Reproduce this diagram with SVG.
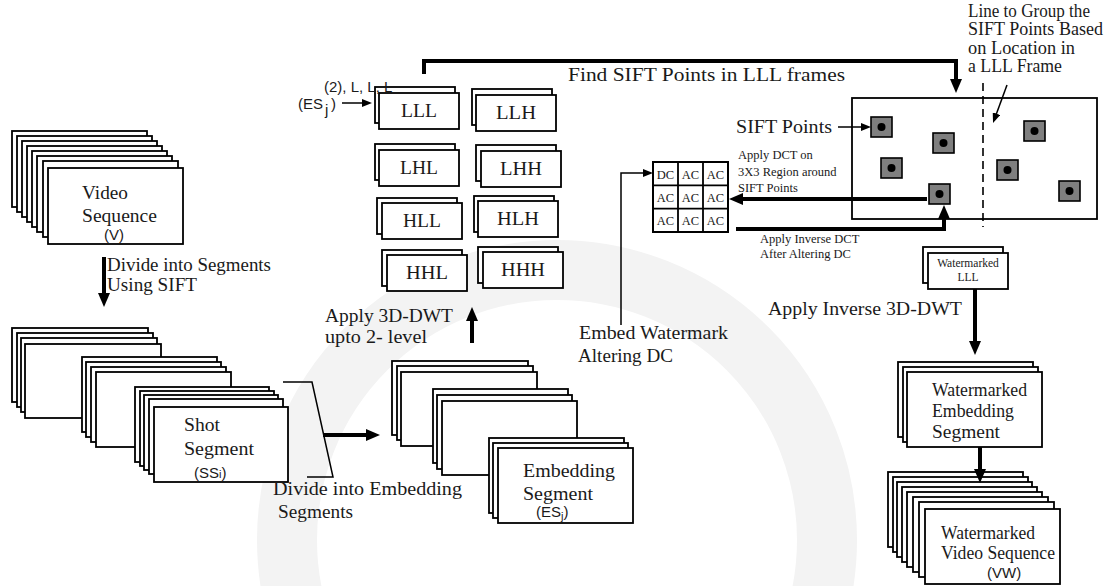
<svg xmlns="http://www.w3.org/2000/svg" width="1114" height="586" viewBox="0 0 1114 586">
  <style>
    .fr { fill: #fff; stroke: #000; stroke-width: 1.8; }
    .t { font-family: "Liberation Serif", "Times New Roman", serif; font-size: 18px; fill: #1a1a1a; }
    .ts { font-family: "Liberation Serif", serif; font-size: 12.5px; fill: #1a1a1a; }
    .sm { font-family: "Liberation Serif", serif; font-size: 11.5px; fill: #1a1a1a; }
    .sn { font-family: "Liberation Sans", Arial, sans-serif; font-size: 15px; fill: #1a1a1a; }
    .thick { fill: none; stroke: #000; stroke-width: 4; }
    .thin { fill: none; stroke: #000; stroke-width: 1.5; }
    .pt { fill: #7f7f7f; stroke: #000; stroke-width: 1.6; }
    .c { text-anchor: middle; }
  </style>
  <defs>
    <marker id="ah" markerUnits="userSpaceOnUse" markerWidth="14" markerHeight="12" refX="2" refY="6" orient="auto">
      <path d="M0,0 L14,6 L0,12 z" fill="#000"/>
    </marker>
    <marker id="ahs" markerUnits="userSpaceOnUse" markerWidth="10" markerHeight="8" refX="2" refY="4" orient="auto">
      <path d="M0,0 L10,4 L0,8 z" fill="#000"/>
    </marker>
  </defs>

  <rect width="1114" height="586" fill="#fff"/>
  <!-- faint background seal -->
  <circle cx="557" cy="540" r="270" fill="none" stroke="#f3f3f3" stroke-width="60"/>

  <!-- Video sequence -->
  <g id="video-sequence">
    <rect class="fr" x="12" y="131" width="135" height="76"/>
    <rect class="fr" x="17" y="136" width="135" height="76"/>
    <rect class="fr" x="22" y="141" width="135" height="76"/>
    <rect class="fr" x="27" y="146" width="135" height="76"/>
    <rect class="fr" x="32" y="151" width="135" height="76"/>
    <rect class="fr" x="37" y="156" width="135" height="76"/>
    <rect class="fr" x="43" y="161" width="135" height="76"/>
    <rect class="fr" x="48" y="168" width="135" height="76"/>
    <text class="t" x="82" y="199" textLength="46" lengthAdjust="spacingAndGlyphs">Video</text>
    <text class="t" x="82" y="222" textLength="75" lengthAdjust="spacingAndGlyphs">Sequence</text>
    <text class="sn" x="104" y="240">(V)</text>
  </g>

  <!-- Shot segments -->
  <g id="shot-segments">
    <rect class="fr" x="12" y="328" width="136" height="74"/>
    <rect class="fr" x="17" y="333" width="136" height="74"/>
    <rect class="fr" x="21" y="338" width="136" height="74"/>
    <rect class="fr" x="25" y="344" width="136" height="74"/>
    <rect class="fr" x="82" y="357" width="135" height="75"/>
    <rect class="fr" x="86" y="362" width="135" height="75"/>
    <rect class="fr" x="91" y="367" width="135" height="75"/>
    <rect class="fr" x="96" y="372" width="135" height="75"/>
    <rect class="fr" x="135" y="387" width="134" height="75"/>
    <rect class="fr" x="140" y="391" width="134" height="75"/>
    <rect class="fr" x="144" y="395" width="134" height="75"/>
    <rect class="fr" x="149" y="399" width="134" height="75"/>
    <rect class="fr" x="154" y="407" width="134" height="75"/>
    <text class="t" x="184" y="431" textLength="36" lengthAdjust="spacingAndGlyphs">Shot</text>
    <text class="t" x="184" y="455" textLength="70" lengthAdjust="spacingAndGlyphs">Segment</text>
    <text class="sn" x="194" y="478" font-size="14">(SS<tspan font-size="11">i</tspan>)</text>
  </g>

  <!-- Embedding segments -->
  <g id="embedding-segments">
    <rect class="fr" x="392" y="361" width="136" height="74"/>
    <rect class="fr" x="397" y="366" width="136" height="74"/>
    <rect class="fr" x="401" y="372" width="136" height="74"/>
    <rect class="fr" x="433" y="389" width="135" height="74"/>
    <rect class="fr" x="437" y="395" width="135" height="74"/>
    <rect class="fr" x="442" y="401" width="135" height="74"/>
    <rect class="fr" x="489" y="438" width="135" height="75"/>
    <rect class="fr" x="493" y="443" width="135" height="75"/>
    <rect class="fr" x="498" y="448" width="135" height="75"/>
    <text class="t" x="523" y="477" textLength="92" lengthAdjust="spacingAndGlyphs">Embedding</text>
    <text class="t" x="523" y="500" textLength="70" lengthAdjust="spacingAndGlyphs">Segment</text>
    <text class="sn" x="536" y="517">(ES<tspan font-size="11" dy="3">j</tspan><tspan dy="-3">)</tspan></text>
  </g>

  <!-- 3D-DWT subbands -->
  <g id="band-LLL">
    <rect class="fr" x="375" y="87" width="80" height="36"/>
    <rect class="fr" x="379" y="93" width="80" height="36"/>
    <text class="t c" x="419" y="117" textLength="36" lengthAdjust="spacingAndGlyphs">LLL</text>
  </g>
  <g id="band-LLH">
    <rect class="fr" x="472" y="89" width="80" height="36"/>
    <rect class="fr" x="476" y="95" width="80" height="36"/>
    <text class="t c" x="516" y="119" textLength="40" lengthAdjust="spacingAndGlyphs">LLH</text>
  </g>
  <g id="band-LHL">
    <rect class="fr" x="375" y="144" width="80" height="36"/>
    <rect class="fr" x="379" y="150" width="80" height="36"/>
    <text class="t c" x="419" y="174" textLength="38" lengthAdjust="spacingAndGlyphs">LHL</text>
  </g>
  <g id="band-LHH">
    <rect class="fr" x="476" y="145" width="80" height="36"/>
    <rect class="fr" x="481" y="151" width="80" height="36"/>
    <text class="t c" x="521" y="175" textLength="42" lengthAdjust="spacingAndGlyphs">LHH</text>
  </g>
  <g id="band-HLL">
    <rect class="fr" x="377" y="198" width="80" height="36"/>
    <rect class="fr" x="382" y="203" width="80" height="36"/>
    <text class="t c" x="422" y="227" textLength="38" lengthAdjust="spacingAndGlyphs">HLL</text>
  </g>
  <g id="band-HLH">
    <rect class="fr" x="474" y="196" width="80" height="36"/>
    <rect class="fr" x="478" y="201" width="80" height="36"/>
    <text class="t c" x="518" y="225" textLength="42" lengthAdjust="spacingAndGlyphs">HLH</text>
  </g>
  <g id="band-HHL">
    <rect class="fr" x="382" y="250" width="80" height="36"/>
    <rect class="fr" x="387" y="255" width="80" height="36"/>
    <text class="t c" x="427" y="279" textLength="42" lengthAdjust="spacingAndGlyphs">HHL</text>
  </g>
  <g id="band-HHH">
    <rect class="fr" x="478" y="247" width="80" height="36"/>
    <rect class="fr" x="483" y="252" width="80" height="36"/>
    <text class="t c" x="523" y="276" textLength="44" lengthAdjust="spacingAndGlyphs">HHH</text>
  </g>

  <!-- LLL frame with SIFT points -->
  <g id="lll-frame">
    <rect fill="#fff" stroke="#000" stroke-width="1.8" x="852" y="98" width="245" height="121"/>
    <line x1="983" y1="83" x2="983" y2="227" stroke="#000" stroke-width="1.6" stroke-dasharray="8,5"/>
    <rect class="pt" x="871" y="117" width="21" height="20"/><circle cx="881.5" cy="127" r="4"/>
    <rect class="pt" x="933" y="133" width="21" height="20"/><circle cx="943.5" cy="143" r="4"/>
    <rect class="pt" x="881" y="158" width="21" height="20"/><circle cx="891.5" cy="168" r="4"/>
    <rect class="pt" x="929" y="184" width="21" height="20"/><circle cx="939.5" cy="194" r="4"/>
    <rect class="pt" x="1024" y="121" width="21" height="20"/><circle cx="1034.5" cy="131" r="4"/>
    <rect class="pt" x="997" y="160" width="21" height="20"/><circle cx="1007.5" cy="170" r="4"/>
    <rect class="pt" x="1059" y="181" width="21" height="20"/><circle cx="1069.5" cy="191" r="4"/>
  </g>

  <!-- 3x3 DCT block -->
  <g id="dct-block">
    <rect x="653" y="162" width="75" height="70" fill="#fff" stroke="#000" stroke-width="2"/>
    <path d="M678,162 V232 M703,162 V232 M653,185.3 H728 M653,208.7 H728" stroke="#000" stroke-width="1.8"/>
    <text class="ts c" x="665.5" y="178.5">DC</text>
    <text class="ts c" x="690.5" y="178.5">AC</text>
    <text class="ts c" x="715.5" y="178.5">AC</text>
    <text class="ts c" x="665.5" y="201.5">AC</text>
    <text class="ts c" x="690.5" y="201.5">AC</text>
    <text class="ts c" x="715.5" y="201.5">AC</text>
    <text class="ts c" x="665.5" y="225">AC</text>
    <text class="ts c" x="690.5" y="225">AC</text>
    <text class="ts c" x="715.5" y="225">AC</text>
  </g>

  <!-- Watermarked LLL -->
  <g id="watermarked-lll">
    <rect class="fr" x="923" y="247" width="80" height="36"/>
    <rect class="fr" x="928" y="253" width="80" height="36"/>
    <text class="sm c" x="968" y="267">Watermarked</text>
    <text class="sm c" x="968" y="281">LLL</text>
  </g>

  <!-- Watermarked embedding segment -->
  <g id="watermarked-embedding">
    <rect class="fr" x="898" y="362" width="135" height="75"/>
    <rect class="fr" x="903" y="367" width="135" height="75"/>
    <rect class="fr" x="907" y="372" width="135" height="75"/>
    <text class="t" x="932" y="396" textLength="95" lengthAdjust="spacingAndGlyphs">Watermarked</text>
    <text class="t" x="932" y="417" textLength="82" lengthAdjust="spacingAndGlyphs">Embedding</text>
    <text class="t" x="932" y="438" textLength="68" lengthAdjust="spacingAndGlyphs">Segment</text>
  </g>

  <!-- Watermarked video sequence -->
  <g id="watermarked-video">
    <rect class="fr" x="888" y="472" width="135" height="75"/>
    <rect class="fr" x="893" y="477" width="135" height="75"/>
    <rect class="fr" x="897" y="482" width="135" height="75"/>
    <rect class="fr" x="902" y="487" width="135" height="75"/>
    <rect class="fr" x="907" y="492" width="135" height="75"/>
    <rect class="fr" x="913" y="497" width="135" height="75"/>
    <rect class="fr" x="919" y="502" width="135" height="75"/>
    <rect class="fr" x="925" y="509" width="135" height="75"/>
    <text class="t" x="941" y="539" textLength="94" lengthAdjust="spacingAndGlyphs">Watermarked</text>
    <text class="t" x="941" y="559" textLength="114" lengthAdjust="spacingAndGlyphs">Video Sequence</text>
    <text class="sn" x="987" y="578">(VW)</text>
  </g>

  <!-- Connectors -->
  <g id="connectors">
    <line class="thick" x1="104" y1="257" x2="104" y2="295" marker-end="url(#ah)"/>
    <polyline class="thin" points="283,382 312,382 333,477 307,477"/>
    <line class="thick" x1="323" y1="435" x2="368" y2="435" marker-end="url(#ah)"/>
    <line class="thick" x1="472" y1="343" x2="472" y2="319" marker-end="url(#ah)"/>
    <line class="thin" x1="342" y1="103" x2="364" y2="103" marker-end="url(#ahs)"/>
    <path class="thick" d="M424,74 V61 H956 V81" marker-end="url(#ah)"/>
    <line class="thin" x1="838" y1="127" x2="863" y2="127" marker-end="url(#ahs)"/>
    <line class="thin" x1="1007" y1="85" x2="995.8" y2="115.5" marker-end="url(#ahs)"/>
    <line class="thick" x1="927" y1="199" x2="741" y2="199" marker-end="url(#ah)"/>
    <path class="thick" d="M736,229 H944 V217" marker-end="url(#ah)"/>
    <path class="thin" d="M621,325 V173 H645" marker-end="url(#ahs)"/>
    <line class="thick" x1="975" y1="289" x2="975" y2="343" marker-end="url(#ah)"/>
    <line class="thick" x1="980" y1="447" x2="980" y2="471" marker-end="url(#ah)"/>
  </g>

  <!-- Labels -->
  <g id="labels">
    <text class="t" x="107" y="271" textLength="164" lengthAdjust="spacingAndGlyphs">Divide into Segments</text>
    <text class="t" x="107" y="291" textLength="90" lengthAdjust="spacingAndGlyphs">Using SIFT</text>
    <text class="t" x="273" y="495" textLength="189" lengthAdjust="spacingAndGlyphs">Divide into Embedding</text>
    <text class="t" x="278" y="518" textLength="75" lengthAdjust="spacingAndGlyphs">Segments</text>
    <text class="t" x="325" y="322" textLength="128" lengthAdjust="spacingAndGlyphs">Apply 3D-DWT</text>
    <text class="t" x="325" y="343" textLength="102" lengthAdjust="spacingAndGlyphs">upto 2- level</text>
    <text class="t" x="579" y="339" textLength="149" lengthAdjust="spacingAndGlyphs">Embed Watermark</text>
    <text class="t" x="578" y="362" textLength="95" lengthAdjust="spacingAndGlyphs">Altering DC</text>
    <text class="t" x="568" y="81" textLength="277" lengthAdjust="spacingAndGlyphs">Find SIFT Points in LLL frames</text>
    <text class="t" x="968" y="17" textLength="122" lengthAdjust="spacingAndGlyphs">Line to Group the</text>
    <text class="t" x="968" y="35" textLength="135" lengthAdjust="spacingAndGlyphs">SIFT Points Based</text>
    <text class="t" x="968" y="54" textLength="107" lengthAdjust="spacingAndGlyphs">on Location in</text>
    <text class="t" x="968" y="72" textLength="94" lengthAdjust="spacingAndGlyphs">a LLL Frame</text>
    <text class="t" x="736" y="133" textLength="96" lengthAdjust="spacingAndGlyphs">SIFT Points</text>
    <text class="ts" x="738" y="159">Apply DCT on</text>
    <text class="ts" x="738" y="176">3X3 Region around</text>
    <text class="ts" x="738" y="192">SIFT Points</text>
    <text class="ts" x="760" y="243">Apply Inverse DCT</text>
    <text class="ts" x="760" y="258">After Altering DC</text>
    <text class="t" x="768" y="315" textLength="194" lengthAdjust="spacingAndGlyphs">Apply Inverse 3D-DWT</text>
    <text class="sn" x="298" y="109" font-size="16">(ES</text>
    <text class="sn" x="324" y="92" font-size="8">(2), L, L, L</text>
    <text class="sn" x="325" y="115" font-size="9.5">j</text>
    <text class="sn" x="331" y="109" font-size="15">)</text>
  </g>
</svg>
